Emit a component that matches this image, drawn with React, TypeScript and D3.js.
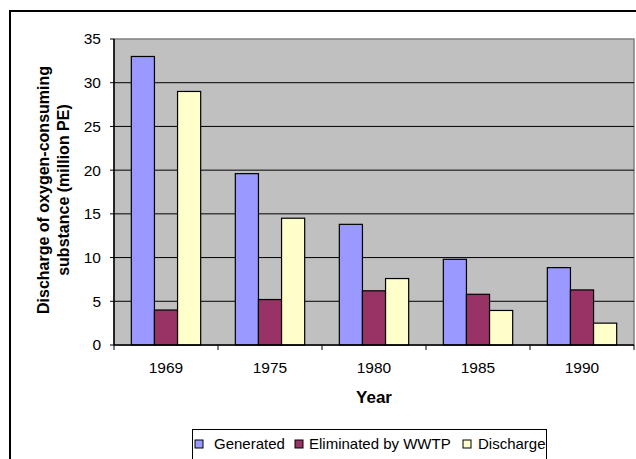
import * as d3 from 'd3'
import { useEffect } from 'react'

const years = ['1969', '1975', '1980', '1985', '1990']
const seriesNames = ['Generated', 'Eliminated by WWTP', 'Discharge']
const generated = [33, 19.6, 13.8, 9.8, 8.85]
const eliminated = [4, 5.2, 6.2, 5.8, 6.3]
const discharge = [29, 14.5, 7.6, 3.95, 2.5]
const yTicks = [0, 5, 10, 15, 20, 25, 30, 35]
const colors = ['#9999FF', '#993366', '#FFFFCC']

const W = 636
const H = 459
const FONT = '"Liberation Sans", Arial, sans-serif'

const App = () => {
  useEffect(() => {
    document.body.style.margin = '0'
  }, [])

  const plot = { left: 114, right: 634, top: 39, bottom: 345 }
  const values = [generated, eliminated, discharge]

  const x = d3.scaleBand().domain(years).range([plot.left, plot.right]).padding(0)
  // excel style: gap width 150% of a bar
  const xSub = d3.scaleBand()
    .domain(seriesNames)
    .range([0, x.bandwidth()])
    .paddingInner(0)
    .paddingOuter(0.75)
  const y = d3.scaleLinear().domain([0, 35]).range([plot.bottom, plot.top])

  const bandEdges = [...years.map(d => x(d)!), plot.right]

  // legend layout
  const legendItems = [
    { name: seriesNames[0], sq: 195, tx: 214 },
    { name: seriesNames[1], sq: 295, tx: 309 },
    { name: seriesNames[2], sq: 463, tx: 478 }
  ]

  return (
    <svg width={W} height={H} style={{ position: 'fixed', left: 0, top: 0, display: 'block' }}>
      <rect x={0} y={0} width={W} height={H} fill="#fff" />
      {/* chart border */}
      <rect x={10} y={11} width={W + 20} height={H + 20} fill="none" stroke="#000" strokeWidth={2} />

      {/* plot area */}
      <rect x={plot.left} y={plot.top} width={plot.right - plot.left} height={plot.bottom - plot.top}
        fill="#C0C0C0" stroke="#808080" strokeWidth={1.5} />

      {/* gridlines */}
      {yTicks.filter(t => t > 0 && t < 35).map(t => (
        <line key={t} x1={plot.left} x2={plot.right} y1={y(t)} y2={y(t)} stroke="#000" strokeWidth={1} />
      ))}

      {/* bars */}
      {years.map((yr, i) => (
        <g key={yr} transform={`translate(${x(yr)},0)`}>
          {seriesNames.map((s, j) => (
            <rect key={s}
              x={xSub(s)!}
              y={y(values[j][i])}
              width={xSub.bandwidth()}
              height={y(0) - y(values[j][i])}
              fill={colors[j]}
              stroke="#000"
              strokeWidth={1.2} />
          ))}
        </g>
      ))}

      {/* axes */}
      <line x1={plot.left} x2={plot.left} y1={plot.top} y2={plot.bottom} stroke="#000" strokeWidth={1.5} />
      <line x1={plot.left} x2={plot.right} y1={plot.bottom} y2={plot.bottom} stroke="#000" strokeWidth={1.5} />
      {yTicks.map(t => (
        <g key={t}>
          <line x1={plot.left - 4} x2={plot.left} y1={y(t)} y2={y(t)} stroke="#000" strokeWidth={1} />
          <text x={plot.left - 13} y={y(t)} dy="0.35em" textAnchor="end"
            fontFamily={FONT} fontSize={15.5} fill="#000">{t}</text>
        </g>
      ))}
      {bandEdges.map((e, i) => (
        <line key={i} x1={e} x2={e} y1={plot.bottom} y2={plot.bottom + 5} stroke="#000" strokeWidth={1} />
      ))}
      {years.map(yr => (
        <text key={yr} x={x(yr)! + x.bandwidth() / 2} y={372.5} textAnchor="middle"
          fontFamily={FONT} fontSize={15.5} fill="#000">{yr}</text>
      ))}

      {/* axis titles */}
      <text x={(plot.left + plot.right) / 2} y={403.3} textAnchor="middle"
        fontFamily={FONT} fontSize={17} fontWeight="bold" fill="#000">Year</text>
      <g transform={`translate(0,${(plot.top + plot.bottom) / 2 - 2}) rotate(-90)`}>
        <text x={0} y={48.5} textAnchor="middle" fontFamily={FONT} fontSize={16} fontWeight="bold" fill="#000">
          Discharge of oxygen-consuming
        </text>
        <text x={0} y={68.5} textAnchor="middle" fontFamily={FONT} fontSize={16} fontWeight="bold" fill="#000">
          substance (million PE)
        </text>
      </g>

      {/* legend */}
      <rect x={192.5} y={429.5} width={354} height={40} fill="#fff" stroke="#000" strokeWidth={1} />
      {legendItems.map((d, i) => (
        <g key={d.name}>
          <rect x={d.sq} y={440} width={8} height={8} fill={colors[i]} stroke="#000" strokeWidth={1} />
          <text x={d.tx} y={449.3} fontFamily={FONT} fontSize={15} fill="#000">{d.name}</text>
        </g>
      ))}
    </svg>
  )
}

export default App
